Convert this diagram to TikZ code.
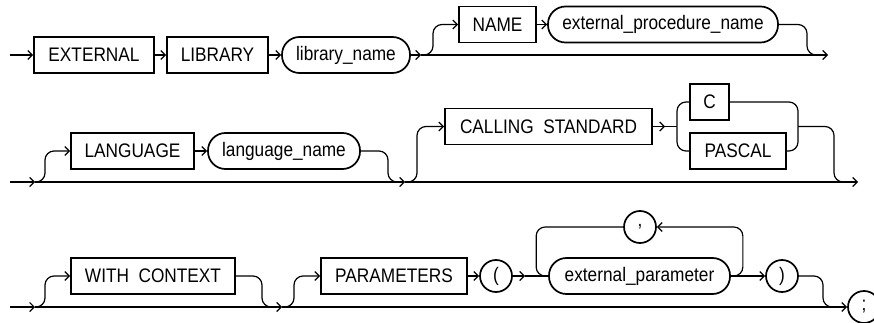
\documentclass[tikz,border=0pt]{standalone}
\usepackage{fontspec}
\setmainfont[FakeStretch=0.88]{Liberation Sans}
\usetikzlibrary{arrows.meta}
\begin{document}
\begin{tikzpicture}[x=1pt,y=-1pt,
  base/.style={inner sep=0pt,font=\fontsize{19.6}{22}\selectfont,line width=1.7pt,draw,minimum height=36pt},
  kw/.style={base,rectangle},
  nt/.style={base,rectangle,rounded corners=17.5pt},
  circ/.style={base,circle,minimum size=32pt},
  ln/.style={line width=1.2pt},
  arr/.style={-{Straight Barb[length=4.5pt,width=9pt]}},
  rc/.style={rounded corners=9pt}]
\useasboundingbox (0,0) rectangle (874,323);
% ---------- row 1
\coordinate (s1) at (10,55);
\node[kw,minimum width=120pt] (ext) at (94,55) {EXTERNAL};
\node[kw,minimum width=101pt] (lib) at (217.5,55) {LIBRARY};
\node[nt,minimum width=128pt] (libn) at (346,55) {library\_name};
\coordinate (j1) at (421,55);
\node[kw,minimum width=77pt] (name) at (497.5,24.5) {NAME};
\node[nt,minimum width=230pt] (epn) at (663,24.5) {external\_procedure\_name};
\coordinate (r1) at (807,55);
\coordinate (e1) at (828,55);
\draw[ln,arr] (s1) -- (ext);
\draw[ln,arr] (ext) -- (lib);
\draw[ln,arr] (lib) -- (libn);
\draw[ln,arr] (libn) -- (j1);
\draw[ln,arr,rc] (j1) -- ++(12,0) |- (name.west);
\draw[ln,arr] (name) -- (epn);
\draw[ln,rc] (epn.east) -| (r1) -- ++(12,0);
\draw[ln,arr] (j1) -- (e1);
% ---------- row 2
\coordinate (s2) at (10,182);
\coordinate (j2a) at (35,182);
\node[kw,minimum width=123pt] (lang) at (132.5,151) {LANGUAGE};
\node[nt,minimum width=152pt] (langn) at (284,151) {language\_name};
\coordinate (r2a) at (388,182);
\coordinate (j2b) at (405,182);
\node[kw,minimum width=207pt] (cs) at (548.5,126.5) {CALLING\ \ STANDARD};
\coordinate (ba) at (665,126.5);
\coordinate (bl) at (677,126.5);
\node[kw,minimum width=39pt] (c) at (709.5,102) {C};
\node[kw,minimum width=96pt] (pascal) at (738,151) {PASCAL};
\coordinate (br) at (798,126.5);
\coordinate (r2b) at (834,182);
\coordinate (e2) at (858,182);
\draw[ln,arr] (s2) -- (j2a);
\draw[ln,arr,rc] (j2a) -- ++(10,0) |- (lang.west);
\draw[ln,arr] (lang) -- (langn);
\draw[ln,rc] (langn.east) -| (r2a) -- ++(10,0);
\draw[ln,arr] (j2a) -- (j2b);
\draw[ln,arr,rc] (j2b) -- ++(12,0) |- (cs.west);
\draw[ln,arr] (cs) -- (ba);
\draw[ln] (ba) -- (bl);
\draw[ln,rc] (bl) |- (c.west);
\draw[ln,rc] (bl) |- (pascal.west);
\draw[ln,rc] (c.east) -| (br);
\draw[ln,rc] (pascal.east) -| (br);
\draw[ln,rc] (br) -| (r2b) -- ++(12,0);
\draw[ln,arr] (j2b) -- (e2);
% ---------- row 3
\coordinate (s3) at (10,307);
\coordinate (j3a) at (35,307);
\node[kw,minimum width=164pt] (wc) at (153,276) {WITH\ \ CONTEXT};
\coordinate (r3a) at (262,307);
\coordinate (j3b) at (282,307);
\node[kw,minimum width=146pt] (par) at (394,276) {PARAMETERS};
\node[circ] (lp) at (496,276) {(};
\coordinate (la) at (525,276);
\node[nt,minimum width=181pt] (ep) at (639.5,276) {external\_parameter};
\node[circ] (comma) at (640,227) {,};
\node[circ] (rp) at (782,276) {)};
\coordinate (r3b) at (823,307);
\node[circ] (semi) at (864,307) {;};
\draw[ln,arr] (s3) -- (j3a);
\draw[ln,arr,rc] (j3a) -- ++(10,0) |- (wc.west);
\draw[ln,rc] (wc.east) -| (r3a) -- ++(10,0);
\draw[ln,arr] (j3a) -- (j3b);
\draw[ln,arr,rc] (j3b) -- ++(12,0) |- (par.west);
\draw[ln,arr] (par) -- (lp);
\draw[ln,arr] (lp) -- (la);
\draw[ln] (la) -- (ep.west);
\draw[ln,rc] (ep.west) -- ++(-12,0) |- (comma.west);
\draw[ln,arr,rc] (ep.east) -- ++(12,0) |- (comma.east);
\draw[ln,arr] (ep) -- (rp);
\draw[ln,rc] (rp.east) -| (r3b) -- ++(10,0);
\draw[ln,arr] (j3b) -- (semi);
\end{tikzpicture}
\end{document}
